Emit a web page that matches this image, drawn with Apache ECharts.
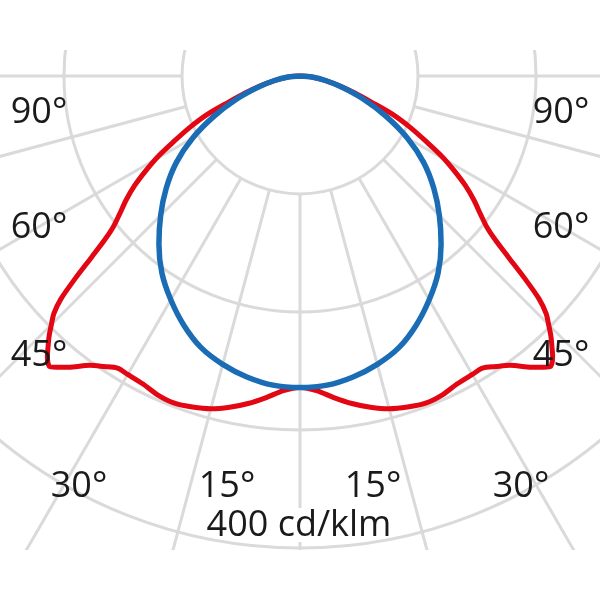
<!DOCTYPE html>
<html><head><meta charset="utf-8">
<script src="https://cdn.jsdelivr.net/npm/echarts@6/dist/echarts.min.js"></script>
<style>html,body{margin:0;padding:0;background:#fff}#c{width:600px;height:600px}</style>
</head><body><div id="c"></div>
<script>
// Luminous intensity (cd/klm) vs angle from nadir (degrees), symmetric distribution
const redAngles  = [0,3,6,9,12,15,18,21,24,27,30,32,34,36,38,39.5,40.7,42,43,44,45,46,47,48,49,50,51,52.5,54.5,56.5,58.5,60.5,62.5,65,67.5,70,72.5,75,77.5,80,82.5,85,87.5,90];
const redValues  = [264,267,274,281,287,292,295,297,296,293,292,292,297,303,313,320,325,320,313,306,298,290,277,256,234,216,204,193,181,168,153,138,121,103,85,64,50,38,29,22,15,10,5,0];
const blueAngles = [0,5,10,15,20,25,30,35,40,45,50,55,60,65,70,75,80,85,90];
const blueValues = [264,263,259,253,245,233,219,204,186,167,148,128,105,80,57,37,22,10,0];
const angleLabels = ['90°','60°','45°','30°','15°'];
const unitLabel = '400 cd/klm';
const radiusMax = 400;

function mirror(angles, values){
  const out = [];
  for (let i = angles.length - 1; i >= 0; i--) out.push([values[i], -angles[i]]);
  for (let i = 1; i < angles.length; i++) out.push([values[i], angles[i]]);
  return out;
}

const gridColor = '#dadada';
const textStyle = {fontFamily:'Open Sans', fontSize:36, fill:'#1a1a1a', textAlign:'center', textVerticalAlign:'middle'};
const labelPos = [
  [[39,113],[561,113]],
  [[39,228],[561,228]],
  [[39,356],[561,356]],
  [[79,487],[521,487]],
  [[227,487],[373,487]]
];
const texts = [];
angleLabels.forEach((t,i)=>{
  labelPos[i].forEach(p=>{
    texts.push({type:'text', x:p[0], y:p[1], z:10, style:Object.assign({text:t}, textStyle)});
  });
});
texts.push({type:'text', x:299, y:526, z:10, style:Object.assign({text:unitLabel}, textStyle)});

const chart = echarts.init(document.getElementById('c'), null, {renderer:'canvas'});
chart.setOption({
  animation:false,
  backgroundColor:'#fff',
  polar:[
    {center:[300,76], radius:[118,590]},
    {center:[300,76], radius:[0,472]}
  ],
  angleAxis:[
    {polarIndex:0, type:'value', min:-180, max:180, interval:15, startAngle:90, clockwise:true,
     axisLine:{show:false}, axisTick:{show:false}, axisLabel:{show:false},
     splitLine:{show:true, lineStyle:{color:gridColor, width:3}}},
    {polarIndex:1, type:'value', min:-180, max:180, startAngle:90, clockwise:true,
     axisLine:{show:false}, axisTick:{show:false}, axisLabel:{show:false}, splitLine:{show:false}}
  ],
  radiusAxis:[
    {polarIndex:0, type:'value', min:100, max:500, interval:100,
     axisLine:{show:false}, axisTick:{show:false}, axisLabel:{show:false},
     splitLine:{show:true, lineStyle:{color:gridColor, width:3}}},
    {polarIndex:1, type:'value', min:0, max:radiusMax,
     axisLine:{show:false}, axisTick:{show:false}, axisLabel:{show:false}, splitLine:{show:false}}
  ],
  series:[
    {type:'line', coordinateSystem:'polar', polarIndex:1, data:mirror(redAngles, redValues),
     showSymbol:false, smooth:0.3, z:3, lineStyle:{color:'#e30613', width:5}},
    {type:'line', coordinateSystem:'polar', polarIndex:1, data:mirror(blueAngles, blueValues),
     showSymbol:false, smooth:0.3, z:4, lineStyle:{color:'#1a6db5', width:5.5}}
  ],
  graphic:{elements:[
    {type:'rect', shape:{x:0,y:0,width:600,height:50}, z:1, style:{fill:'#fff'}},
    {type:'rect', shape:{x:0,y:550,width:600,height:50}, z:1, style:{fill:'#fff'}},
    {type:'rect', shape:{x:238,y:508,width:124,height:34}, z:1, style:{fill:'#fff'}}
  ].concat(texts)}
});
</script></body></html>
